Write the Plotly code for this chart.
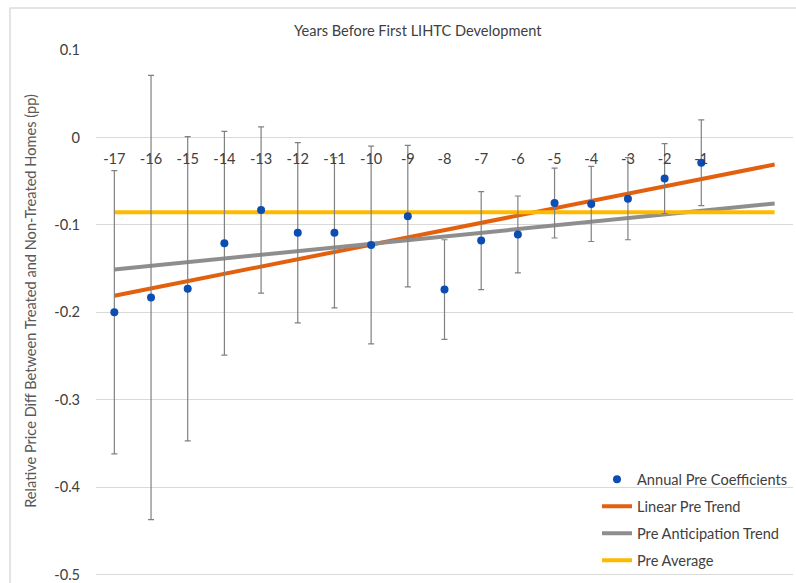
import plotly.graph_objects as go

# Event-study coefficients for the years before the first LIHTC development
years = [-17, -16, -15, -14, -13, -12, -11, -10, -9, -8, -7, -6, -5, -4, -3, -2, -1]
coef = [-0.200, -0.183, -0.173, -0.121, -0.083, -0.109, -0.109, -0.123, -0.090,
        -0.174, -0.118, -0.111, -0.075, -0.076, -0.070, -0.047, -0.029]
ci_half = [0.162, 0.254, 0.174, 0.128, 0.095, 0.103, 0.086, 0.113, 0.081,
           0.057, 0.056, 0.044, 0.040, 0.043, 0.047, 0.040, 0.049]

# Fitted pre-period trends, evaluated at the ends of the window
trend_x = [-17, 1]
linear_trend = [-0.181, -0.031]
anticipation_trend = [-0.151, -0.0755]
pre_average = [-0.0855, -0.0855]

y_ticks = [0.1, 0, -0.1, -0.2, -0.3, -0.4, -0.5]
y_tick_text = ["0.1", "0", "-0.1", "-0.2", "-0.3", "-0.4", "-0.5"]
x_tick_text = [str(y) for y in years]

FONT = "Lato"
FS = 14.6
TXT = "#595959"
DARK = "#404040"

W, H = 796, 583
X_RANGE = [-17.5, 1.5]
Y_RANGE = [-0.505, 0.1]
PX_PER_UNIT = 875.0
L, R, T = 96, 3, 50
B = H - T - (Y_RANGE[1] - Y_RANGE[0]) * PX_PER_UNIT


def px_to_paper_x(px):
    return (px - L) / (W - L - R)


def px_to_paper_y(py):
    return (H - B - py) / (H - T - B)


fig = go.Figure()

fig.add_trace(go.Scatter(
    x=trend_x, y=linear_trend, mode="lines", name="Linear Pre Trend",
    line=dict(color="#E2600E", width=4), legendrank=2, legendgroup="b"))
fig.add_trace(go.Scatter(
    x=trend_x, y=anticipation_trend, mode="lines", name="Pre Anticipation Trend",
    line=dict(color="#8E8E8E", width=4), legendrank=3, legendgroup="c"))
fig.add_trace(go.Scatter(
    x=trend_x, y=pre_average, mode="lines", name="Pre Average",
    line=dict(color="#FFBA00", width=4), legendrank=4, legendgroup="d"))
fig.add_trace(go.Scatter(
    x=years, y=coef, mode="markers", name="Annual Pre Coefficients",
    marker=dict(color="#0B4DB3", size=8),
    error_y=dict(type="data", array=ci_half, visible=True,
                 color="#808080", thickness=1.2, width=3),
    legendrank=1, legendgroup="a"))

fig.update_layout(
    width=W, height=H,
    margin=dict(l=L, r=R, t=T, b=B, autoexpand=False),
    paper_bgcolor="white", plot_bgcolor="white",
    font=dict(family=FONT, size=FS, color=TXT),
    showlegend=True,
    legend=dict(
        x=px_to_paper_x(597), y=px_to_paper_y(463.5), xanchor="left", yanchor="top",
        bgcolor="rgba(0,0,0,0)", font=dict(family=FONT, size=FS, color=DARK),
        traceorder="grouped", tracegroupgap=5, itemwidth=30),
    xaxis=dict(
        range=X_RANGE, showgrid=False, zeroline=False, showline=False,
        anchor="free", position=(0 - Y_RANGE[0]) / (Y_RANGE[1] - Y_RANGE[0]),
        tickmode="array", tickvals=years, ticktext=x_tick_text,
        ticks="outside", ticklen=8, tickcolor="rgba(0,0,0,0)",
        tickfont=dict(family=FONT, size=FS, color=DARK)),
    yaxis=dict(
        range=Y_RANGE, showgrid=True, gridcolor="#D9D9D9", gridwidth=1,
        zeroline=False, showline=False,
        tickmode="array", tickvals=y_ticks, ticktext=y_tick_text,
        ticks="outside", ticklen=12, tickcolor="rgba(0,0,0,0)",
        ticklabeloverflow="allow",
        tickfont=dict(family=FONT, size=FS, color=DARK)),
)

# Axis titles
fig.add_annotation(
    text="Years Before First LIHTC Development", xref="paper", yref="paper",
    x=px_to_paper_x(418), y=px_to_paper_y(30), xanchor="center", yanchor="middle",
    showarrow=False, font=dict(family=FONT, size=FS, color=DARK))
fig.add_annotation(
    text="Relative Price Diff Between Treated and Non-Treated Homes (pp)",
    xref="paper", yref="paper", textangle=-90,
    x=px_to_paper_x(31), y=px_to_paper_y(301), xanchor="center", yanchor="middle",
    showarrow=False, font=dict(family=FONT, size=FS, color=TXT))

# Chart frame
fig.add_shape(type="rect", xref="paper", yref="paper",
              x0=px_to_paper_x(10), x1=px_to_paper_x(805),
              y0=px_to_paper_y(600), y1=px_to_paper_y(8),
              line=dict(color="#DCDCDC", width=1.5), layer="below")

fig.write_html("out.html")
